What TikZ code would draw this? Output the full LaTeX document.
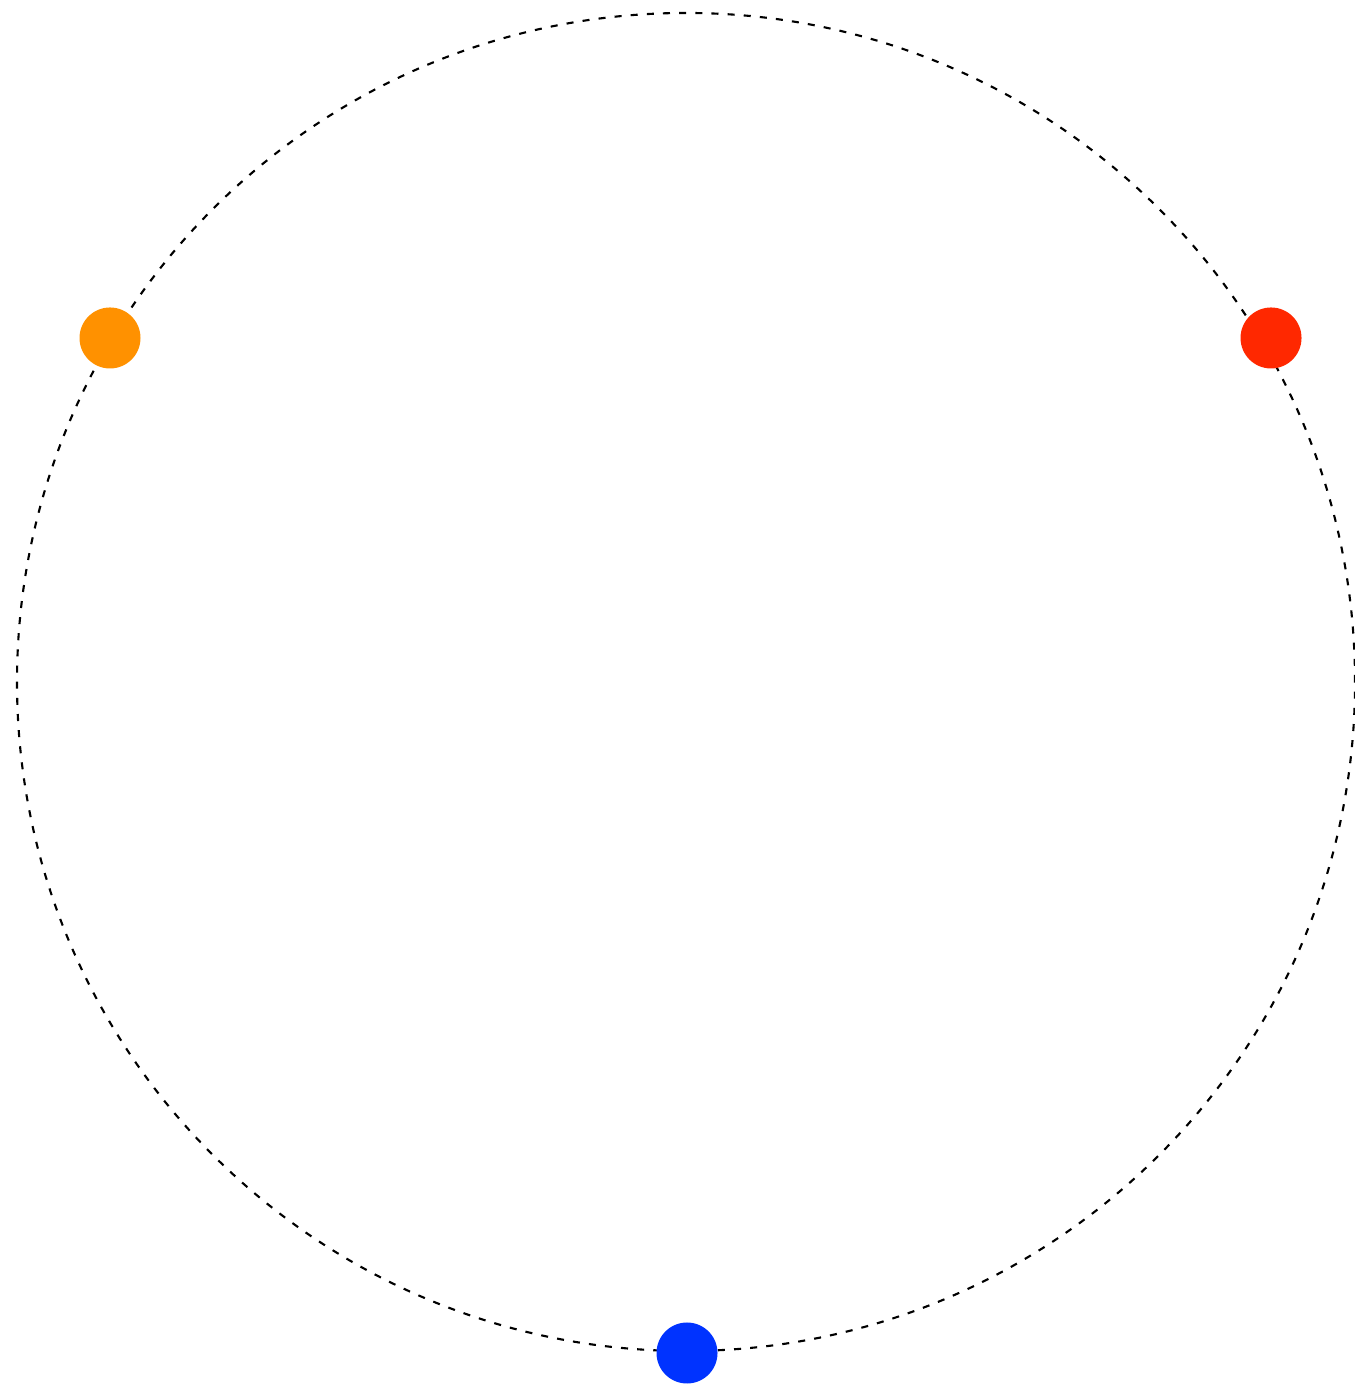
\documentclass[tikz,border=0pt]{standalone}
\usepackage{tikz}
\usetikzlibrary{shapes,positioning,calc}
\definecolor{dotorange}{RGB}{255,145,0}
\definecolor{dotred}{RGB}{255,40,0}
\definecolor{dotblue}{RGB}{0,51,255}

\begin{document}
\begin{tikzpicture}[dot/.style={circle, inner sep=0pt, minimum size=0.61cm}]
        \useasboundingbox (0,0) rectangle (13.54,13.84);
        % Orbit
        \coordinate (O) at (6.86,7.02);
        \draw[line width=0.6pt, dash pattern=on 2pt off 2.6pt] (O) circle (6.69);

        % Points
        \node[dot, fill=dotorange] (P1) at (1.10,10.46) {};
        \node[dot, fill=dotred] (P2) at (12.71,10.46) {};
        \node[dot, fill=dotblue] (P3) at (6.87,0.31) {};
    \end{tikzpicture}
\end{document}
